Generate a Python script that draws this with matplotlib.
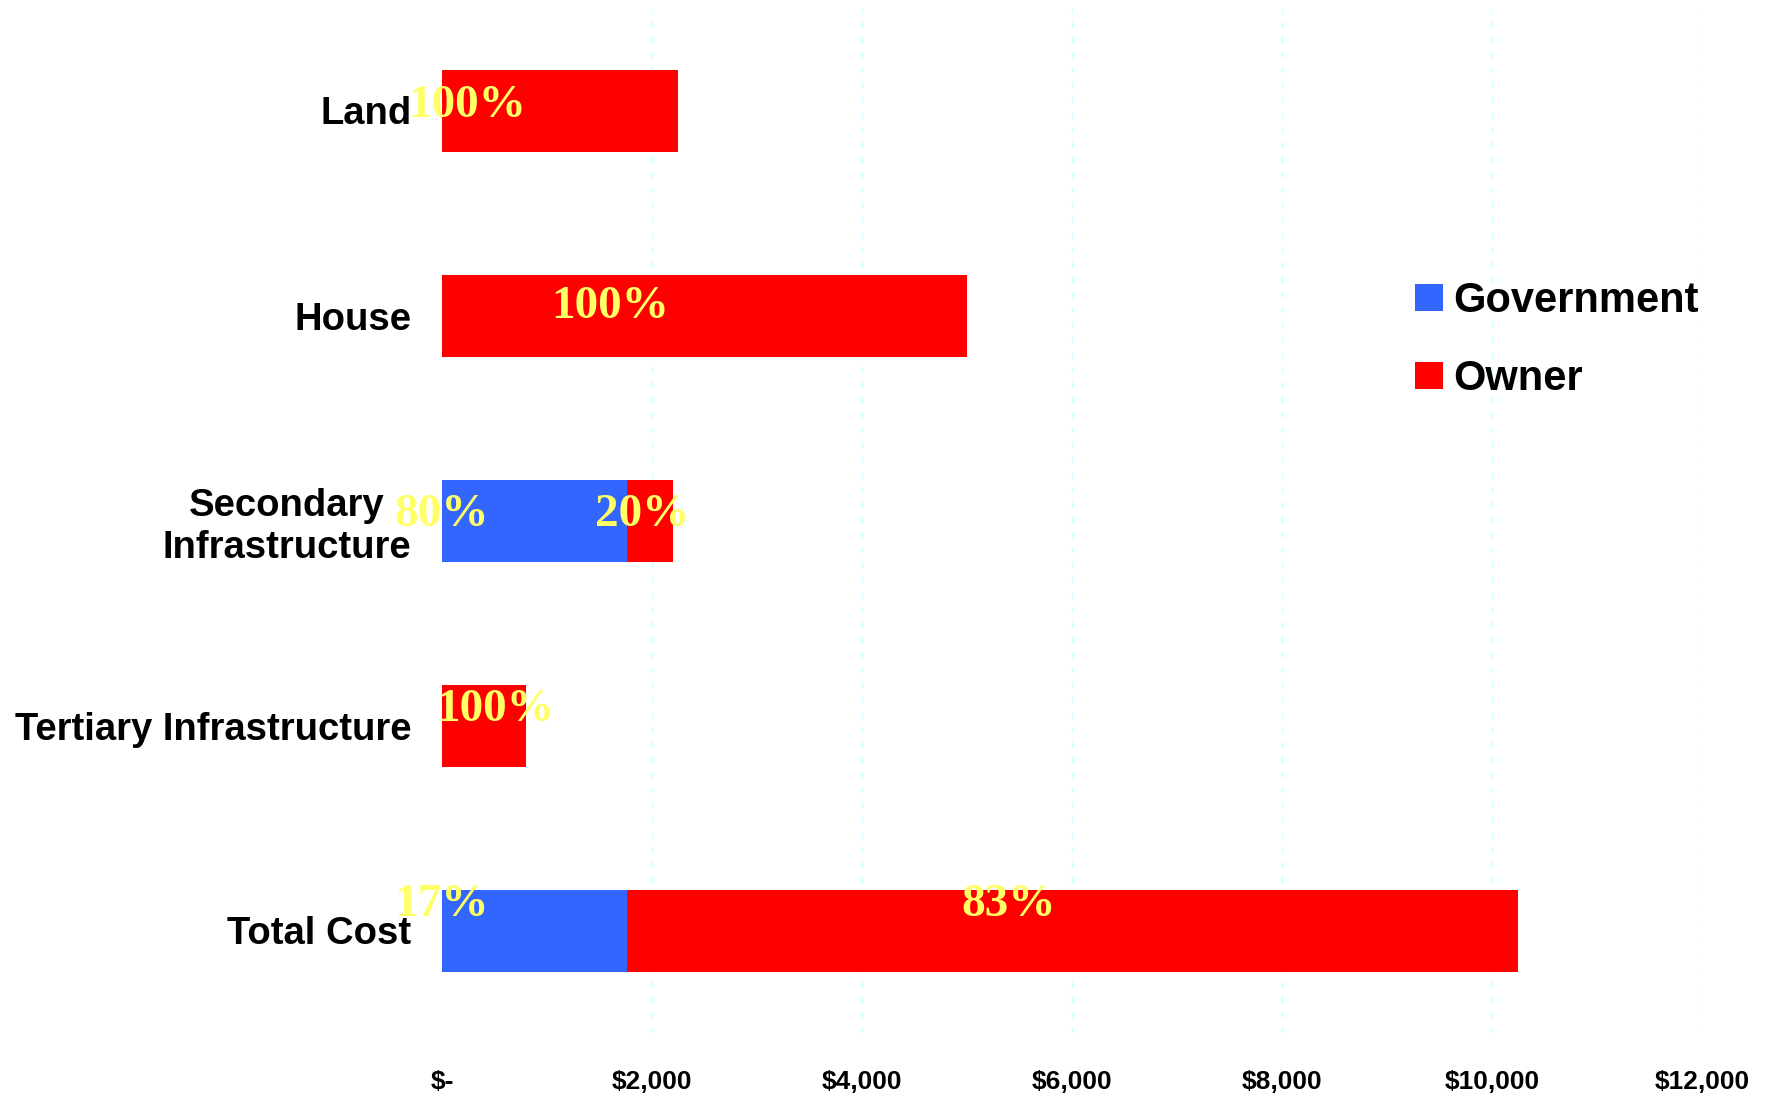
import matplotlib
matplotlib.use("Agg")
import matplotlib.pyplot as plt
from matplotlib.ticker import FuncFormatter, MultipleLocator
from matplotlib.patches import Patch

# Cost components per housing unit, split by who pays
categories = ["Land", "House", "Secondary\nInfrastructure",
              "Tertiary Infrastructure", "Total Cost"]
government = [0, 0, 1760, 0, 1760]
owner = [2250, 5000, 440, 800, 8490]
series_names = ["Government", "Owner"]

# Where each share label sits: (x in dollars, vertical nudge in bar units)
gov_label_pos = {2: (0, 0.026), 4: (0, -0.073)}
owner_label_pos = {0: (238, 0.03), 1: (1600, 0.01), 2: (1905, 0.026),
                   3: (510, -0.022), 4: (5400, -0.073)}

BLUE = "#3366FF"
RED = "#FF0000"
YELLOW = "#FFFF66"

fig = plt.figure(figsize=(17.66, 10.96), dpi=100)
ax = fig.add_axes([442 / 1766, 1 - 1033 / 1096, (1702 - 442) / 1766, (1033 - 8) / 1096])

ypos = list(range(len(categories)))
ax.barh(ypos, government, height=0.4, color=BLUE, zorder=2)
ax.barh(ypos, owner, left=government, height=0.4, color=RED, zorder=2)

ax.set_ylim(len(categories) - 0.5, -0.5)
ax.set_xlim(0, 12000)
ax.xaxis.set_major_locator(MultipleLocator(2000))
ax.xaxis.set_major_formatter(FuncFormatter(lambda v, _: "$-" if v == 0 else f"${v:,.0f}"))

ax.set_yticks(ypos)
ax.set_yticklabels(categories)
for lbl in ax.get_yticklabels():
    lbl.set_multialignment("center")
    lbl.set_fontfamily("Liberation Sans")
    lbl.set_fontweight("bold")
    lbl.set_fontsize(27.5)
for lbl in ax.get_xticklabels():
    lbl.set_fontfamily("Liberation Sans")
    lbl.set_fontweight("bold")
    lbl.set_fontsize(19)

ax.tick_params(axis="y", length=0, pad=22)
ax.tick_params(axis="x", length=0, pad=26.5)
for side in ax.spines.values():
    side.set_visible(False)

# light dashed vertical gridlines (none on the zero line)
ax.xaxis.grid(True, color="#CCFFFF", linewidth=1.0, dashes=(4.7, 6.1), zorder=0)
ax.yaxis.grid(False)
ax.set_axisbelow(True)
fig.canvas.draw()
for tick in ax.xaxis.get_major_ticks():
    if abs(tick.get_loc()) < 1e-9:
        tick.gridline.set_visible(False)

# percentage share labels
for i in range(len(categories)):
    total = government[i] + owner[i]
    for vals, pos in ((government, gov_label_pos), (owner, owner_label_pos)):
        if vals[i] > 0 and i in pos:
            x, dy = pos[i]
            ax.text(x, ypos[i] + dy, f"{round(100 * vals[i] / total)}%",
                    ha="center", va="baseline", color=YELLOW,
                    fontfamily="Liberation Serif", fontweight="bold",
                    fontsize=34, zorder=3, clip_on=False)

handles = [Patch(facecolor=BLUE, edgecolor="none"), Patch(facecolor=RED, edgecolor="none")]
fig.legend(handles, series_names, loc="center left",
           bbox_to_anchor=(1415 / 1766, 1 - 340 / 1096), frameon=False,
           prop={"family": "Liberation Sans", "weight": "bold", "size": 30},
           handlelength=0.67, handleheight=0.62, handletextpad=0.24,
           labelspacing=0.9, borderpad=0, borderaxespad=0)

fig.savefig("out.png", dpi=100)
